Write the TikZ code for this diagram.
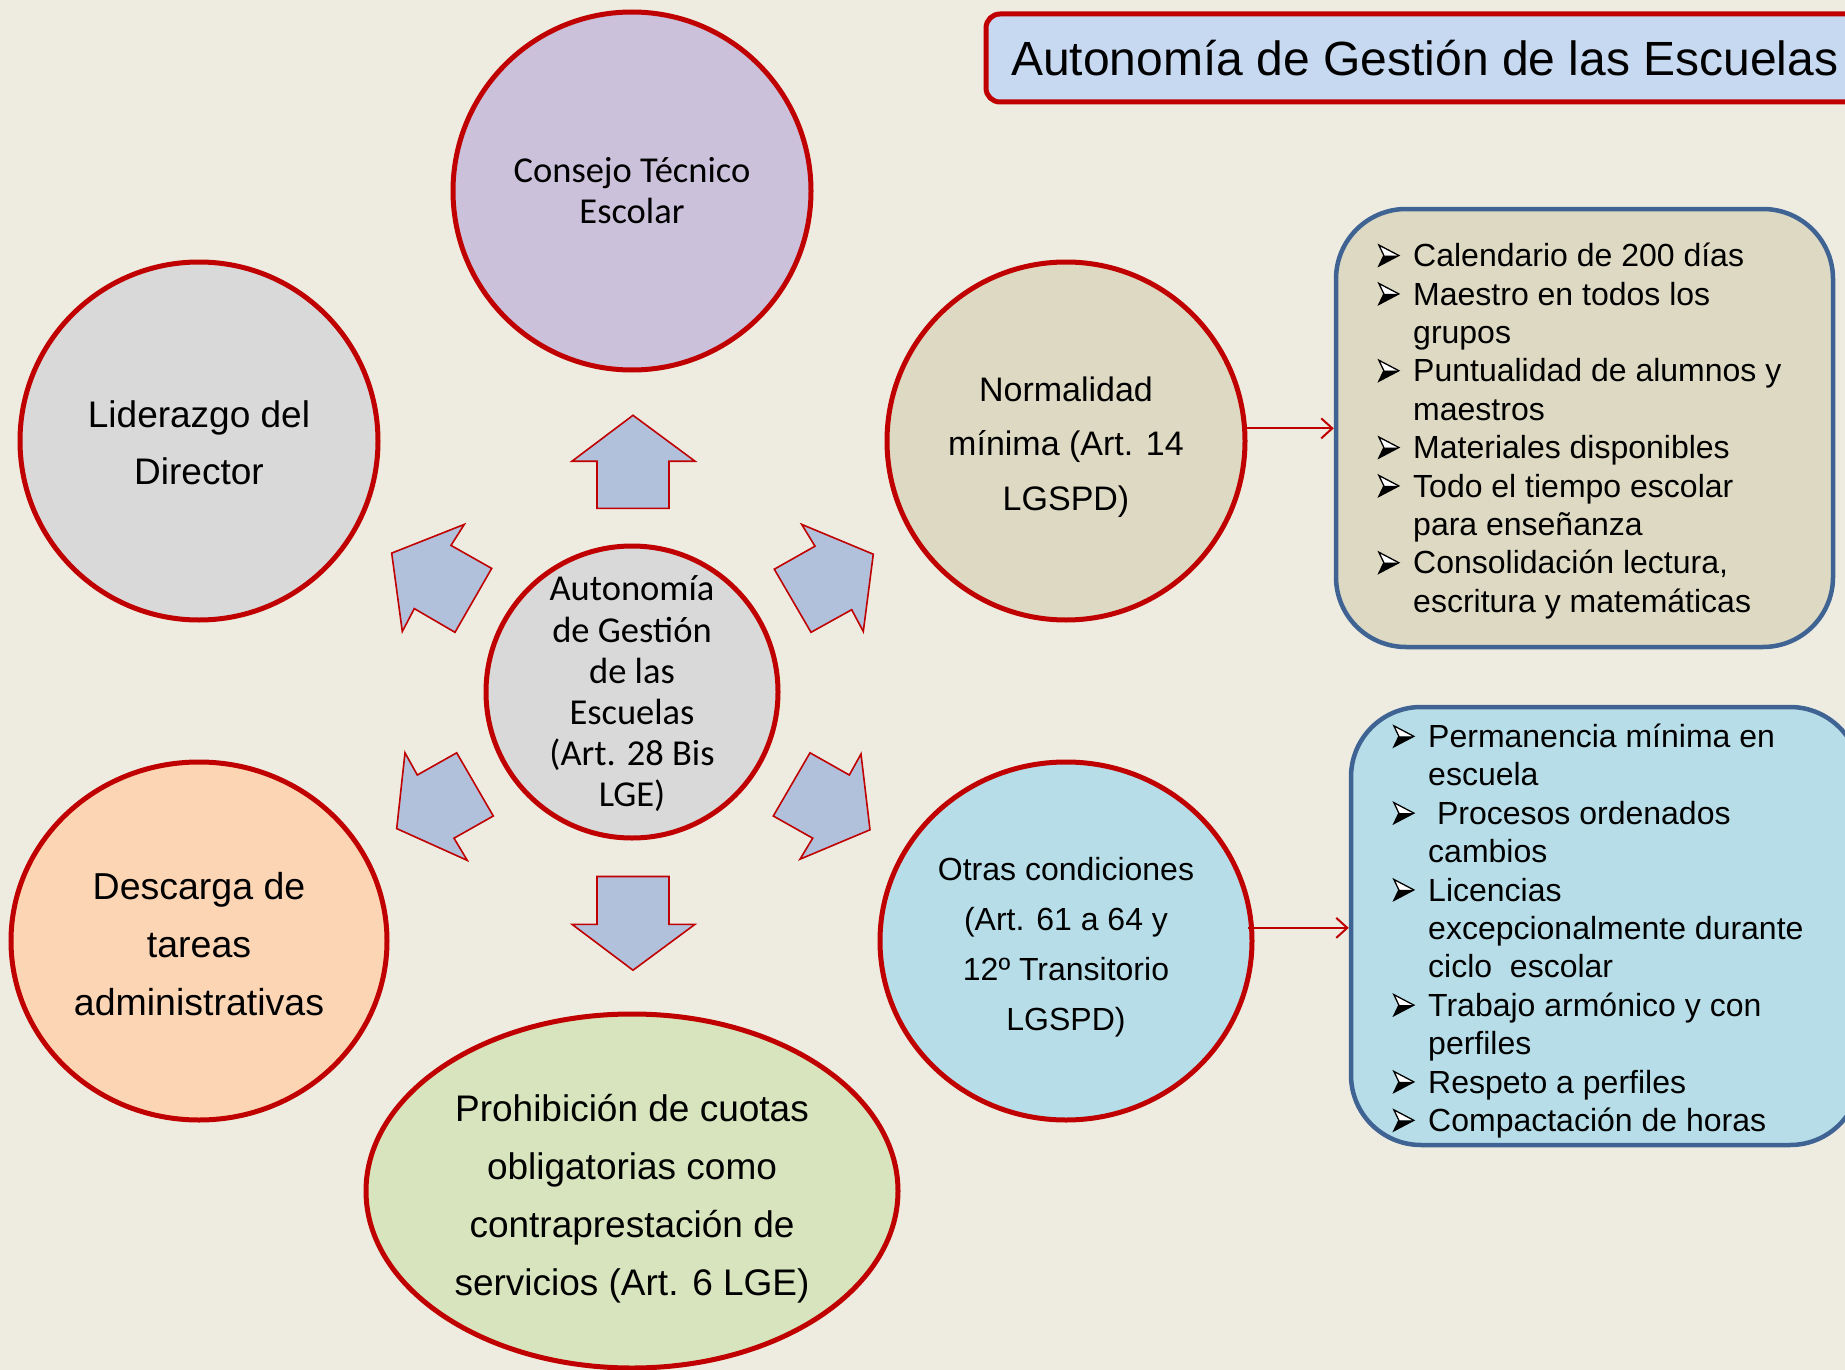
\documentclass[tikz,border=0pt]{standalone}
\usepackage{fontspec}
\setmainfont{Liberation Sans}
\newfontfamily\calfont{Carlito}
\usetikzlibrary{shapes.geometric,arrows.meta}
\definecolor{bgc}{HTML}{EEECE1}
\definecolor{redc}{HTML}{C00000}
\definecolor{lavc}{HTML}{CCC1DA}
\definecolor{grayc}{HTML}{D9D9D9}
\definecolor{tanc}{HTML}{DDD9C3}
\definecolor{peachc}{HTML}{FCD5B5}
\definecolor{aquac}{HTML}{B7DEE8}
\definecolor{greenc}{HTML}{D7E4BD}
\definecolor{titlec}{HTML}{C6D9F1}
\definecolor{arrowc}{HTML}{B1C1DC}
\definecolor{bluec}{HTML}{3F6494}
\newsavebox\bulbox
\newcommand\bul{\makebox[35pt][l]{\usebox\bulbox}}
\newcommand\ind{\hspace*{35pt}}
\begin{document}
\sbox\bulbox{\begin{pgfpicture}
  \pgfsetlinewidth{1.3pt}\pgfsetmiterjoin
  \pgfsetfillcolor{white}
  \pgfpathmoveto{\pgfpoint{0pt}{21pt}}\pgfpathlineto{\pgfpoint{20pt}{10.5pt}}\pgfpathlineto{\pgfpoint{5pt}{10.5pt}}\pgfpathclose\pgfusepath{fill}
  \pgfsetfillcolor{black}
  \pgfpathmoveto{\pgfpoint{5pt}{10.5pt}}\pgfpathlineto{\pgfpoint{20pt}{10.5pt}}\pgfpathlineto{\pgfpoint{0pt}{0pt}}\pgfpathclose\pgfusepath{fill}
  \pgfsetstrokecolor{black}
  \pgfpathmoveto{\pgfpoint{0pt}{21pt}}\pgfpathlineto{\pgfpoint{20pt}{10.5pt}}\pgfpathlineto{\pgfpoint{0pt}{0pt}}\pgfpathlineto{\pgfpoint{5pt}{10.5pt}}\pgfpathclose\pgfusepath{stroke}
\end{pgfpicture}}
\begin{tikzpicture}[x=1pt,y=-1pt,
  bubble/.style={draw=redc, line width=5pt, inner sep=0pt},
  circ/.style={bubble, circle},
  ell/.style={bubble, ellipse},
  ctext/.style={align=center, inner sep=0pt, text=black},
  barrow/.style={draw=redc, line width=1.6pt, fill=arrowc, line join=miter},
  conn/.style={draw=redc, line width=2pt, -{Straight Barb[length=11pt,width=20pt,line width=2pt]}},
  listbox/.style={draw=bluec, line width=4.5pt, rounded corners=70pt, inner sep=0pt},
  listtext/.style={align=left, inner sep=0pt, font=\fontsize{32}{38.4}\selectfont}
]
\useasboundingbox (0,0) rectangle (1845,1370);
\fill[bgc] (0,0) rectangle (1845,1370);

% title
\node[draw=redc, line width=5pt, fill=titlec, rounded corners=14pt, minimum width=895pt, minimum height=88pt, inner sep=0pt] (titlebox) at (1433.5,58) {};
\node[anchor=base west, inner sep=0pt, font=\fontsize{48}{48}\selectfont] (titletext) at (1011,76) {Autonomía de Gestión de las Escuelas};

% circles
\node[circ, fill=lavc, minimum size=358pt] (cte) at (632,191) {};
\node[circ, fill=grayc, minimum size=358pt] (lid) at (199,441) {};
\node[circ, fill=tanc, minimum size=358pt] (norm) at (1066,441) {};
\node[circ, fill=grayc, minimum size=292pt] (cen) at (632,692) {};
\node[ell, fill=peachc, minimum width=376pt, minimum height=358pt] (desc) at (199,941) {};
\node[ell, fill=aquac, minimum width=372pt, minimum height=358pt] (otras) at (1066,941) {};
\node[ell, fill=greenc, minimum width=532pt, minimum height=354pt] (proh) at (632,1191) {};

% circle texts
\node[ctext, font=\calfont\fontsize{36.5}{41}\selectfont] (ctet) at ([yshift=0pt]cte.center) {Consejo Técnico\\Escolar};
\node[ctext, font=\fontsize{37}{57}\selectfont] (lidt) at ([yshift=-2pt]lid.center) {Liderazgo del\\Director};
\node[ctext, font=\fontsize{34}{54.5}\selectfont] (normt) at ([yshift=-6pt]norm.center) {Normalidad\\mínima (Art. 14\\LGSPD)};
\node[ctext, font=\calfont\fontsize{36.5}{41.2}\selectfont] (cent) at ([yshift=-2pt]cen.center) {Autonomía\\de Gestión\\de las\\Escuelas\\(Art. 28 Bis\\LGE)};
\node[ctext, font=\fontsize{37.5}{58}\selectfont] (desct) at ([yshift=-3pt]desc.center) {Descarga de\\tareas\\administrativas};
\node[ctext, font=\fontsize{32}{50}\selectfont] (otrast) at ([yshift=-6pt]otras.center) {Otras condiciones\\(Art. 61 a 64 y\\12º Transitorio\\LGSPD)};
\node[ctext, font=\fontsize{37}{58}\selectfont] (proht) at ([yshift=-7.5pt]proh.center) {Prohibición de cuotas\\obligatorias como\\contraprestación de\\servicios (Art. 6 LGE)};

% block arrows
\draw[barrow] (633,415.3) -- (695,461.2) -- (669,461.2) -- (669,508.3) -- (597,508.3) -- (597,461.2) -- (572,461.2) -- cycle;
\draw[barrow] (597,876.5) -- (669,876.5) -- (669,924.3) -- (695,924.3) -- (633,970.2) -- (572,924.3) -- (597,924.3) -- cycle;
\draw[barrow] (391.7,553.1) -- (464.3,524.4) -- (451,545.4) -- (491.7,568.4) -- (455,632.3) -- (414.3,608.6) -- (402.3,631.5) -- cycle;
\draw[barrow] (801.7,524.4) -- (873.3,554.2) -- (863.3,631.5) -- (851.7,609.7) -- (811,632.3) -- (774.3,569.2) -- (815,546.2) -- cycle;
\draw[barrow] (405,752.8) -- (417.3,775.0) -- (456.7,752.8) -- (493.3,816.0) -- (454,838.2) -- (467.3,860.4) -- (396.7,828.6) -- cycle;
\draw[barrow] (810,752.8) -- (849.3,775.0) -- (861,754.0) -- (870,829.8) -- (800,859.2) -- (812.7,838.2) -- (773.3,816.0) -- cycle;

% list boxes
\node[listbox, fill=tanc, minimum width=497pt, minimum height=438pt] (box1) at (1584.5,428) {};
\node[listbox, fill=aquac, minimum width=509pt, minimum height=438pt] (box2) at (1605.5,926) {};

\node[listtext, anchor=west] (list1) at (1378,431) {%
\bul Calendario de 200 días\\
\bul Maestro en todos los\\
\ind grupos\\
\bul Puntualidad de alumnos y\\
\ind maestros\\
\bul Materiales disponibles\\
\bul Todo el tiempo escolar\\
\ind para enseñanza\\
\bul Consolidación lectura,\\
\ind escritura y matemáticas};

\node[listtext, anchor=west] (list2) at (1393,931) {%
\bul Permanencia mínima en\\
\ind escuela\\
\bul\ Procesos ordenados\\
\ind cambios\\
\bul Licencias\\
\ind excepcionalmente durante\\
\ind ciclo\ \ escolar\\
\bul Trabajo armónico y con\\
\ind perfiles\\
\bul Respeto a perfiles\\
\bul Compactación de horas};

% connectors
\draw[conn] (norm.4.5) -- (norm.4.5 -| box1.west);
\draw[conn] ([xshift=-6pt]otras.4.6) -- (otras.4.6 -| box2.west);
\end{tikzpicture}
\end{document}
